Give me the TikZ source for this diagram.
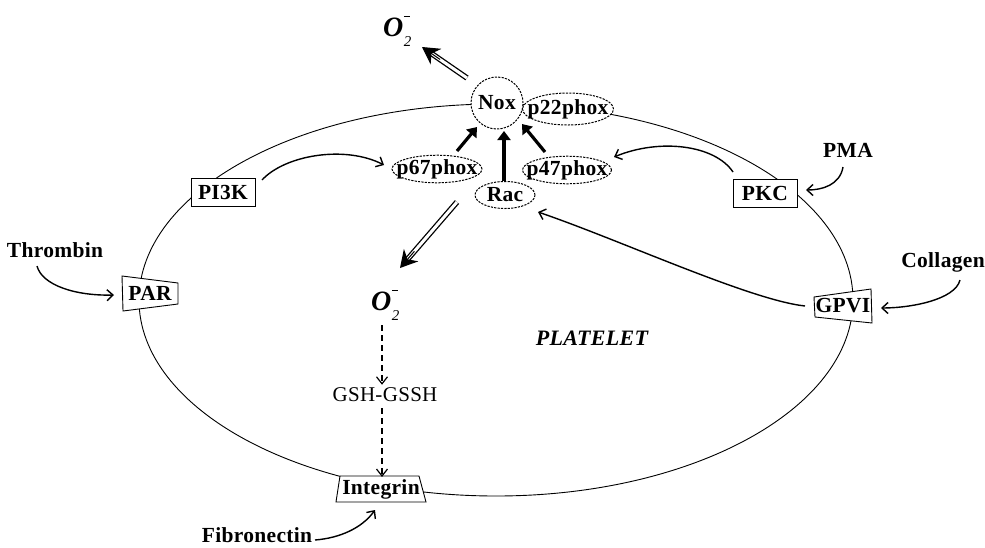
\documentclass[tikz,border=0pt]{standalone}
\usepackage{fontspec}
\setmainfont{Liberation Serif}[LetterSpace=1.5]
\usetikzlibrary{arrows.meta,shapes.geometric,calc}
\newcommand{\supox}{{\fontsize{28}{28}\selectfont\bfseries\itshape O}\kern0.5pt\rlap{\raisebox{19pt}{\rule{6pt}{1pt}}}\raisebox{-10pt}{\fontsize{15}{15}\selectfont\itshape 2}}
\begin{document}
\begin{tikzpicture}[x=1pt,y=-1pt,
  lab/.style={font=\fontsize{21.5}{23}\selectfont\bfseries, inner sep=0pt},
  plain/.style={font=\fontsize{21}{23}\selectfont, inner sep=0pt},
  box/.style={lab, draw, line width=0.9pt, fill=white, minimum width=64pt, minimum height=28pt},
  oval/.style={ellipse, draw, line width=1pt, dash pattern=on 2.2pt off 1.2pt, fill=white, inner sep=0pt, lab},
  membrane/.style={line width=0.9pt},
  receptor/.style={draw, line width=0.9pt, fill=white},
  curv/.style={line width=1.4pt, -{Straight Barb[length=6pt,width=11pt]}},
  heavy/.style={line width=3.2pt, -{Triangle[length=9pt,width=13pt]}},
  dblshaft/.style={line width=1.3pt, double distance=3pt, draw=black, double=white},
  dblhead/.style={line width=1pt, -{Stealth[length=17pt,width=19pt]}},
  dasharrow/.style={line width=1.2pt, dash pattern=on 6pt off 4pt, -{Straight Barb[length=7pt,width=11pt]}}
]
\useasboundingbox (0,0) rectangle (985,547);
% membrane
\draw[membrane] (496,300) ellipse [x radius=357pt, y radius=196pt];

% receptor shapes
\draw[receptor] (122,276) -- (178,283) -- (178,304) -- (123,311) -- cycle;
\draw[receptor] (814,297) -- (871,289) -- (872,323) -- (815,317) -- cycle;
\draw[receptor] (340,476) -- (419,476) -- (426,502) -- (336,502) -- cycle;
\node[lab] (par) at (150,293) {PAR};
\node[lab] (gpvi) at (843,306) {GPVI};
\node[lab] (integrin) at (381,489) {Integrin};

% boxes
\node[box] (pi3k) at (223,192) {PI3K};
\node[box] (pkc) at (765,193) {PKC};

% oxidase components
\node[oval, minimum width=91pt, minimum height=32pt] (p22) at (568,109) {\makebox[0pt]{p22phox}};
\node[oval, circle, minimum size=52pt] (nox) at (497,103) {\makebox[0pt]{Nox}};
\node[oval, minimum width=90pt, minimum height=26pt] (p67) at (437,169) {\makebox[0pt]{p67phox}};
\node[oval, minimum width=89pt, minimum height=26pt] (p47) at (567,170) {\makebox[0pt]{p47phox}};
\node[oval, minimum width=60pt, minimum height=27pt] (rac) at (505,195) {\makebox[0pt]{Rac}};

% texts
\node[lab] (thrombin) at (55,250) {Thrombin};
\node[lab] (pma) at (848,150) {PMA};
\node[lab] (collagen) at (943,262) {Collagen};
\node[lab] (fibro) at (257,535) {Fibronectin};
\node[plain] (gsh) at (385,395) {GSH-GSSH};
\node[font=\fontsize{22}{24}\selectfont\bfseries\itshape, inner sep=0pt] (platelet) at (592,338) {PLATELET};
\node[anchor=base west, inner sep=0pt] (o2top) at (383,36) {\supox};
\node[anchor=base west, inner sep=0pt] (o2mid) at (371,310) {\supox};

% coordinates for connector ends
\coordinate (thrS) at (37,266);
\coordinate (parT) at (114,295);
\coordinate (piS) at (262,180);
\coordinate (p67T) at (384,165);
\coordinate (pmaS) at (843,167);
\coordinate (pkcT) at (806,190);
\coordinate (pkcS) at (733,172);
\coordinate (p47T) at (614,157);
\coordinate (colS) at (960,280);
\coordinate (gpviT) at (881,308);
\coordinate (gpviS) at (805,306);
\coordinate (racT) at (538,212);
\coordinate (fibS) at (315,540);
\coordinate (intT) at (375,510);

% curved arrows
\draw[curv] (thrS) .. controls (42,285) and (75,296) .. (parT);
\draw[curv] (piS) .. controls (285,155) and (345,145) .. (p67T);
\draw[curv] (pmaS) .. controls (840,185) and (822,190) .. (pkcT);
\draw[curv] (pkcS) .. controls (715,145) and (660,138) .. (p47T);
\draw[curv] (colS) .. controls (955,300) and (910,308) .. (gpviT);
\draw[curv] (gpviS) .. controls (750,300) and (620,240) .. (racT);
\draw[curv] (fibS) .. controls (340,538) and (362,528) .. (intT);

% heavy arrows to Nox
\coordinate (h1s) at (457,151); \coordinate (h1e) at (477,127);
\coordinate (h2s) at (504,181); \coordinate (h2e) at (504,131);
\coordinate (h3s) at (545,152); \coordinate (h3e) at (522,124);
\draw[heavy] (h1s) -- (h1e);
\draw[heavy] (h2s) -- (h2e);
\draw[heavy] (h3s) -- (h3e);

% double arrows (superoxide release)
\coordinate (d1s) at (467,78); \coordinate (d1t) at (422,47);
\coordinate (d2s) at (457,202); \coordinate (d2t) at (400,268);
\draw[dblshaft] (d1s) -- ($(d1t)!10pt!(d1s)$);
\draw[dblhead] ($(d1t)!22pt!(d1s)$) -- (d1t);
\draw[dblshaft] (d2s) -- ($(d2t)!10pt!(d2s)$);
\draw[dblhead] ($(d2t)!22pt!(d2s)$) -- (d2t);

% dashed arrows
\coordinate (ds1) at (382,325);
\draw[dasharrow] (ds1) -- ([yshift=3pt]gsh.north -| ds1);
\draw[dasharrow] (gsh.south -| ds1) ++(0,6) -- ([yshift=2pt]integrin.north -| ds1);
\end{tikzpicture}
\end{document}
